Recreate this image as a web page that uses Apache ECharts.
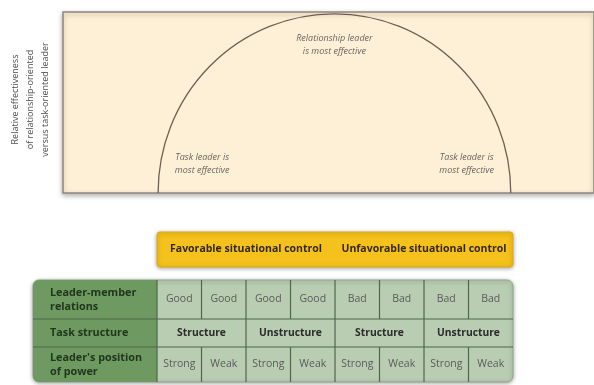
<!DOCTYPE html>
<html>
<head>
<meta charset="utf-8">
<script src="https://cdn.jsdelivr.net/npm/echarts@6/dist/echarts.min.js"></script>
<style>
  html, body { margin: 0; padding: 0; background: #fff; }
  #main { width: 594px; height: 385px; }
</style>
</head>
<body>
<div id="main"></div>
<script>
// eight situations, left to right, shared by the curve and the table below
const relations = ['Good', 'Good', 'Good', 'Good', 'Bad', 'Bad', 'Bad', 'Bad'];
const taskStructure = ['Structure', 'Unstructure', 'Structure', 'Unstructure'];
const positionPower = ['Strong', 'Weak', 'Strong', 'Weak', 'Strong', 'Weak', 'Strong', 'Weak'];
const rowLabels = ['Leader-member\nrelations', 'Task structure', "Leader's position\nof power"];
const controlLabels = ['Favorable situational control', 'Unfavorable situational control'];

// curve over the situations: from edge 0 to edge 8, peak near the top
const curveStart = 0;
const curveEnd = 8;
const curvePeak = 0.99;

const noteText = ['Task leader is\nmost effective', 'Relationship leader\nis most effective', 'Task leader is\nmost effective'];
const noteX = [1, 4, 7];
const noteY = [0.16, 0.82, 0.16];

const FONT = '"Open Sans", "Noto Sans", sans-serif';

// table layout (in table-axis units)
const headLeft = -2.787;
const controlBand = [0, 35];
const rowBands = [[48, 87], [87, 115], [115, 150]];

const cells = [];
cells.push({ kind: 'control', x0: 0, x1: 8, y0: controlBand[0], y1: controlBand[1] });
controlLabels.forEach((t, i) => {
  cells.push({ kind: 'controlText', text: t, x0: i * 4, x1: i * 4 + 4, y0: controlBand[0], y1: controlBand[1] });
});
cells.push({ kind: 'frame', x0: headLeft, x1: 8, y0: rowBands[0][0], y1: rowBands[2][1] });
cells.push({ kind: 'headCol', x0: headLeft, x1: 0, y0: rowBands[0][0], y1: rowBands[2][1] });
rowLabels.forEach((t, r) => {
  cells.push({ kind: 'head', text: t, row: r, x0: headLeft, x1: 0, y0: rowBands[r][0], y1: rowBands[r][1] });
});
[relations, taskStructure, positionPower].forEach((arr, r) => {
  const span = 8 / arr.length;
  arr.forEach((t, i) => {
    cells.push({ kind: 'cell', text: t, row: r, bold: r === 1, x0: i * span, x1: (i + 1) * span, y0: rowBands[r][0], y1: rowBands[r][1] });
  });
});

const lineColor = '#4f6749';

function renderTable(params, api) {
  const c = cells[params.dataIndex];
  const a = api.coord([api.value(0), api.value(2)]);
  const b = api.coord([api.value(1), api.value(3)]);
  const x = a[0], y = a[1], w = b[0] - a[0], h = b[1] - a[1];
  if (c.kind === 'control') {
    return {
      type: 'rect', shape: { x: x, y: y, width: w, height: h, r: 3 },
      style: { fill: '#f5c11c', stroke: '#e0a912', lineWidth: 1, shadowBlur: 4, shadowColor: 'rgba(0,0,0,0.35)', shadowOffsetY: 1 }
    };
  }
  if (c.kind === 'controlText') {
    return {
      type: 'text',
      style: { text: c.text, x: x + w / 2, y: y + h / 2, align: 'center', verticalAlign: 'middle',
        fontFamily: FONT, fontSize: 10.5, fontWeight: 'bold', fill: '#33290a' }
    };
  }
  if (c.kind === 'frame') {
    return {
      type: 'rect', shape: { x: x, y: y, width: w, height: h, r: 6 },
      style: { fill: '#b9cdb3', stroke: '#8fa58a', lineWidth: 1, shadowBlur: 4, shadowColor: 'rgba(0,0,0,0.35)', shadowOffsetY: 1 }
    };
  }
  if (c.kind === 'headCol') {
    return {
      type: 'rect', shape: { x: x, y: y, width: w, height: h, r: [6, 0, 0, 6] },
      style: { fill: '#6e9a61' }
    };
  }
  const children = [];
  if (c.row > 0) {
    children.push({ type: 'line', shape: { x1: x, y1: y, x2: x + w, y2: y }, style: { stroke: lineColor, lineWidth: 1.2 } });
  }
  if (c.kind === 'head') {
    children.push({
      type: 'text',
      style: { text: c.text, x: x + 17, y: y + h / 2, align: 'left', verticalAlign: 'middle',
        fontFamily: FONT, fontSize: 10.8, fontWeight: 'bold', lineHeight: 14, fill: '#21361c' }
    });
  } else {
    children.push({ type: 'line', shape: { x1: x, y1: y, x2: x, y2: y + h }, style: { stroke: lineColor, lineWidth: 1.2 } });
    children.push({
      type: 'text',
      style: { text: c.text, x: x + w / 2, y: y + h / 2, align: 'center', verticalAlign: 'middle',
        fontFamily: FONT, fontSize: c.bold ? 10.3 : 10.5, fontWeight: c.bold ? 'bold' : 'normal', fill: c.bold ? '#2b2b2b' : '#5a5a5a' }
    });
  }
  return { type: 'group', children: children };
}

function renderCurve(params, api) {
  const p0 = api.coord([api.value(0), 0]);
  const p1 = api.coord([api.value(1), 0]);
  const top = api.coord([(api.value(0) + api.value(1)) / 2, api.value(2)]);
  const rx = (p1[0] - p0[0]) / 2;
  const ry = p0[1] - top[1];
  return {
    type: 'path',
    shape: {
      pathData: 'M' + p0[0] + ' ' + p0[1] + ' A' + rx + ' ' + ry + ' 0 0 1 ' + p1[0] + ' ' + p1[1],
      x: p0[0], y: top[1], width: p1[0] - p0[0], height: ry, layout: 'cover'
    },
    style: { fill: 'none', stroke: '#6b6152', lineWidth: 1.3 }
  };
}

const chart = echarts.init(document.getElementById('main'));
chart.setOption({
  animation: false,
  grid: [
    { left: 61, right: -3, top: 12, height: 181, show: true, backgroundColor: '#fdf0d6',
      borderColor: '#8e877c', borderWidth: 1.5, shadowBlur: 5, shadowColor: 'rgba(0,0,0,0.3)', shadowOffsetY: 2 },
    { left: 33, right: 81, top: 232, height: 150 }
  ],
  xAxis: [
    { gridIndex: 0, type: 'value', min: -2.157, max: 9.888, show: false },
    { gridIndex: 1, type: 'value', min: headLeft, max: 8, show: false }
  ],
  yAxis: [
    { gridIndex: 0, type: 'value', min: 0, max: 1,
      axisLine: { show: false }, axisTick: { show: false }, axisLabel: { show: false }, splitLine: { show: false },
      name: 'Relative effectiveness\nof relationship-oriented\nversus task-oriented leader',
      nameLocation: 'middle', nameRotate: 90, nameGap: 10,
      nameTextStyle: { fontFamily: FONT, fontSize: 9, lineHeight: 15, color: '#4d4d4d', padding: [0, 0, 0, 6] } },
    { gridIndex: 1, type: 'value', min: 0, max: 150, inverse: true, show: false }
  ],
  series: [
    { type: 'custom', xAxisIndex: 0, yAxisIndex: 0, silent: true,
      data: [[curveStart, curveEnd, curvePeak]], renderItem: renderCurve },
    { type: 'scatter', xAxisIndex: 0, yAxisIndex: 0, silent: true, symbolSize: 0,
      data: noteX.map((x, i) => [x, noteY[i], noteText[i]]),
      label: { show: true, position: 'inside', formatter: p => p.value[2],
        fontFamily: FONT, fontStyle: 'italic', fontSize: 9, lineHeight: 13, color: '#3f3f3f' } },
    { type: 'custom', xAxisIndex: 1, yAxisIndex: 1, silent: true, clip: false,
      encode: { x: [0, 1], y: [2, 3] },
      data: cells.map(c => [c.x0, c.x1, c.y0, c.y1]), renderItem: renderTable }
  ]
});
</script>
</body>
</html>
